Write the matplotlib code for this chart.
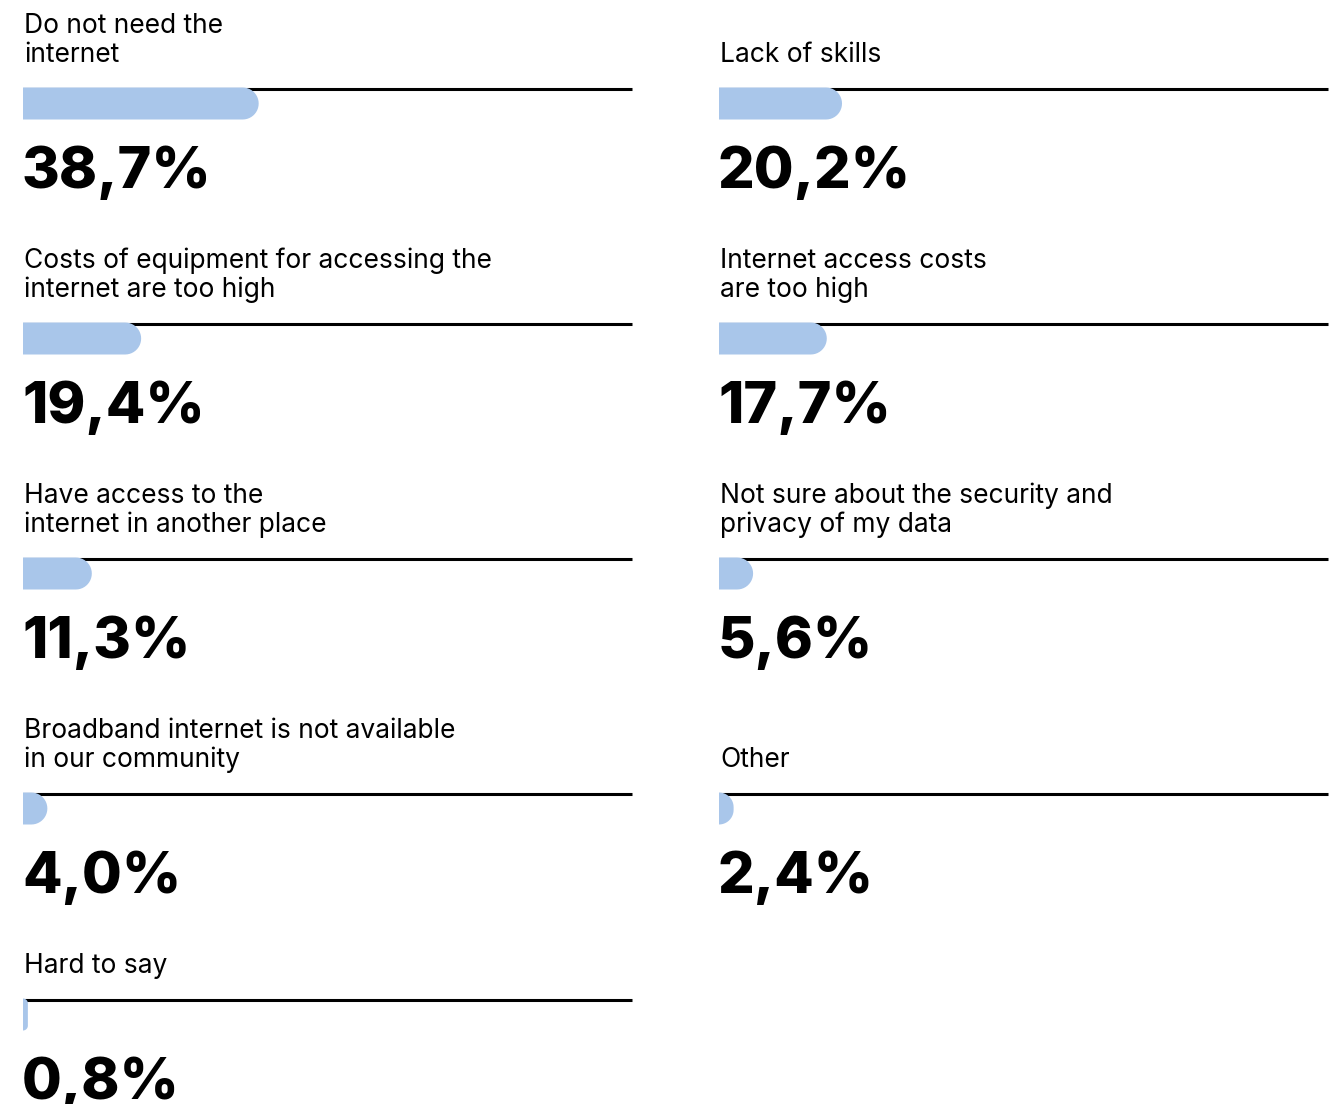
import numpy as np
import matplotlib
matplotlib.use("Agg")
import matplotlib.pyplot as plt
from matplotlib.patches import Polygon

# reasons for not using the internet, in reading order (left, right, left, ...)
labels = [
    "Do not need the\ninternet",
    "Lack of skills",
    "Costs of equipment for accessing the\ninternet are too high",
    "Internet access costs\nare too high",
    "Have access to the\ninternet in another place",
    "Not sure about the security and\nprivacy of my data",
    "Broadband internet is not available\nin our community",
    "Other",
    "Hard to say",
]
values = [38.7, 20.2, 19.4, 17.7, 11.3, 5.6, 4.0, 2.4, 0.8]
value_text = ["38,7%", "20,2%", "19,4%", "17,7%", "11,3%", "5,6%", "4,0%", "2,4%", "0,8%"]

BAR_COLOR = "#a9c6ea"
W, H = 1344, 1104
COL_X = [23, 719]
COL_W = 609
BAR_H = 32
LINE_GAP = 29

fig = plt.figure(figsize=(W / 100, H / 100), dpi=100)
ax = fig.add_axes([0, 0, 1, 1])
ax.set_xlim(0, W)
ax.set_ylim(H, 0)
ax.axis("off")


def rounded_bar(x0, y0, w, h, r):
    """Bar with square left edge and rounded right corners (y goes down)"""
    r = min(r, w)
    t = np.linspace(0, np.pi / 2, 12)
    x1, y1 = x0 + w, y0 + h
    top = np.column_stack([x1 - r + r * np.sin(t), y0 + r - r * np.cos(t)])
    bot = np.column_stack([x1 - r + r * np.cos(t), y1 - r + r * np.sin(t)])
    pts = np.vstack([[x0, y0], top, bot, [x0, y1]])
    return Polygon(pts, closed=True, facecolor=BAR_COLOR, edgecolor="none", zorder=3)


n_rows = (len(labels) + 1) // 2
top = 0
for row in range(n_rows):
    idx = [i for i in (2 * row, 2 * row + 1) if i < len(labels)]
    n_lines = max(labels[i].count("\n") + 1 for i in idx)
    line_y = top + n_lines * LINE_GAP + 31
    for i in idx:
        x0 = COL_X[i % 2]
        ax.plot([x0, x0 + COL_W], [line_y, line_y], color="black", lw=2.2,
                solid_capstyle="butt", zorder=2)
        ax.add_patch(rounded_bar(x0, line_y - 1.5, values[i] / 100 * COL_W,
                                 BAR_H, BAR_H / 2))
        parts = labels[i].split("\n")
        for k, part in enumerate(parts):
            yb = line_y - 27 - (len(parts) - 1 - k) * LINE_GAP
            ax.text(x0 + 1, yb, part, fontsize=19, family="Inter",
                    va="baseline", ha="left", color="black")
        ax.text(x0 - 1, line_y + 99, value_text[i], fontsize=41.5, family="Inter",
                fontweight="heavy", va="baseline", ha="left", color="black")
    top = line_y + 146

fig.savefig("out.png", dpi=100)
